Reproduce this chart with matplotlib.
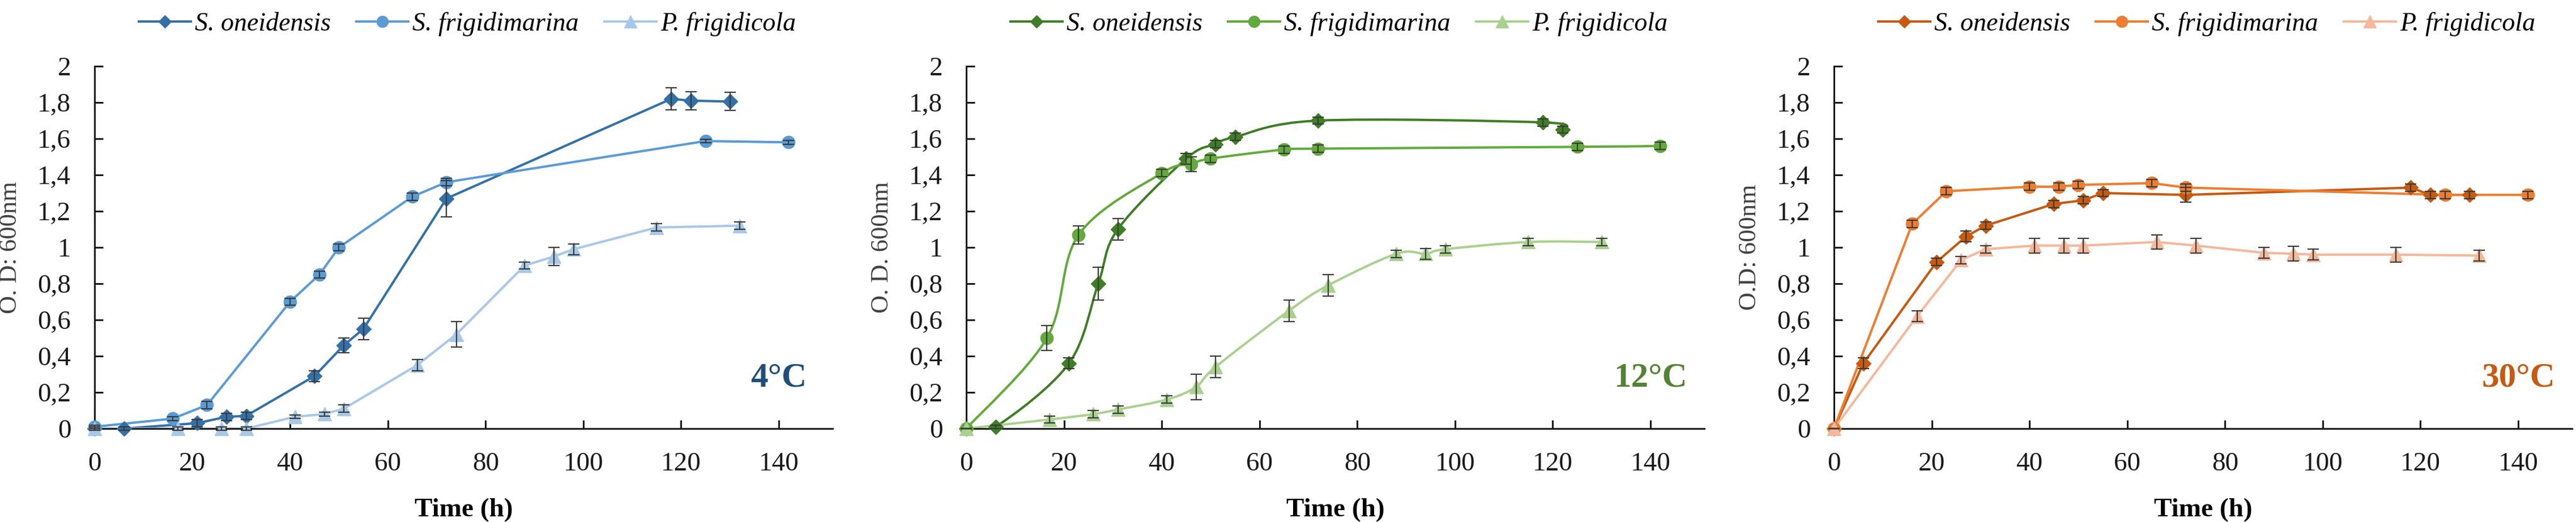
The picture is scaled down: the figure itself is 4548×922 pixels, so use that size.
#!/usr/bin/env python3
import numpy as np
import matplotlib
matplotlib.use("Agg")
import matplotlib.pyplot as plt
from matplotlib.path import Path
from matplotlib.patches import PathPatch
from matplotlib.lines import Line2D

plt.rcParams['font.family'] = ['Liberation Serif', 'DejaVu Serif']

species = ["S. oneidensis", "S. frigidimarina", "P. frigidicola"]
temps = ["4°C", "12°C", "30°C"]
ylabels = ["O. D: 600nm", "O. D. 600nm", "O.D: 600nm"]

# 4 °C
t4_one = [0, 6, 21, 27, 31, 45, 51, 55, 72, 118, 122, 130]
od4_one = [0, 0, 0.03, 0.065, 0.07, 0.29, 0.46, 0.55, 1.27, 1.82, 1.81, 1.805]
err4_one = [0.01, 0.01, 0.02, 0.02, 0.02, 0.03, 0.04, 0.06, 0.10, 0.06, 0.05, 0.05]
t4_fri = [0, 16, 23, 40, 46, 50, 65, 72, 125, 142]
od4_fri = [0.01, 0.055, 0.13, 0.70, 0.85, 1.0, 1.28, 1.36, 1.587, 1.58]
err4_fri = [0.01, 0.01, 0.02, 0.02, 0.02, 0.02, 0.02, 0.02, 0.01, 0.01]
t4_pf = [0, 17, 26, 31, 41, 47, 51, 66, 74, 88, 94, 98, 115, 132]
od4_pf = [0, 0, 0, 0, 0.065, 0.08, 0.11, 0.35, 0.52, 0.9, 0.95, 0.99, 1.11, 1.12]
err4_pf = [0, 0.01, 0.01, 0.01, 0.01, 0.01, 0.02, 0.03, 0.07, 0.02, 0.05, 0.03, 0.02, 0.02]

# 12 °C
t12_one = [0, 6, 21, 27, 31, 45, 51, 55, 72, 118, 122]
od12_one = [0, 0.01, 0.36, 0.80, 1.10, 1.49, 1.57, 1.61, 1.70, 1.69, 1.65]
err12_one = [0, 0.01, 0.03, 0.09, 0.06, 0.03, 0.02, 0.02, 0.02, 0.02, 0.02]
t12_fri = [0, 16.5, 23, 40, 46, 50, 65, 72, 125, 142]
od12_fri = [0, 0.50, 1.07, 1.41, 1.46, 1.49, 1.54, 1.545, 1.555, 1.56]
err12_fri = [0, 0.07, 0.05, 0.02, 0.04, 0.02, 0.02, 0.02, 0.02, 0.02]
t12_pf = [0, 17, 26, 31, 41, 47, 51, 66, 74, 88, 94, 98, 115, 130]
od12_pf = [0, 0.05, 0.08, 0.105, 0.16, 0.23, 0.34, 0.65, 0.79, 0.965, 0.965, 0.99, 1.03, 1.03]
err12_pf = [0, 0.02, 0.02, 0.02, 0.02, 0.07, 0.06, 0.06, 0.06, 0.02, 0.03, 0.02, 0.02, 0.02]

# 30 °C
t30_one = [0, 6, 21, 27, 31, 45, 51, 55, 72, 118, 122, 130]
od30_one = [0, 0.36, 0.92, 1.06, 1.12, 1.24, 1.26, 1.30, 1.29, 1.33, 1.29, 1.29]
err30_one = [0, 0.03, 0.02, 0.03, 0.02, 0.02, 0.02, 0.02, 0.04, 0.02, 0.02, 0.02]
t30_fri = [0, 16, 23, 40, 46, 50, 65, 72, 125, 142]
od30_fri = [0, 1.13, 1.31, 1.335, 1.335, 1.345, 1.355, 1.33, 1.29, 1.29]
err30_fri = [0, 0.02, 0.02, 0.02, 0.02, 0.02, 0.02, 0.02, 0.02, 0.02]
t30_pf = [0, 17, 26, 31, 41, 47, 51, 66, 74, 88, 94, 98, 115, 132]
od30_pf = [0, 0.62, 0.93, 0.99, 1.01, 1.01, 1.01, 1.03, 1.01, 0.97, 0.965, 0.96, 0.96, 0.955]
err30_pf = [0, 0.03, 0.02, 0.02, 0.04, 0.04, 0.04, 0.04, 0.04, 0.03, 0.04, 0.03, 0.04, 0.03]

panels = [
    [(t4_one, od4_one, err4_one), (t4_fri, od4_fri, err4_fri), (t4_pf, od4_pf, err4_pf)],
    [(t12_one, od12_one, err12_one), (t12_fri, od12_fri, err12_fri), (t12_pf, od12_pf, err12_pf)],
    [(t30_one, od30_one, err30_one), (t30_fri, od30_fri, err30_fri), (t30_pf, od30_pf, err30_pf)],
]
colors = [
    ["#3470A8", "#5B9BD5", "#A8C8E8"],
    ["#3E7E24", "#62AA3C", "#A9D18E"],
    ["#C55A11", "#ED7D31", "#F4B89A"],
]
label_colors = ["#1F4E79", "#548235", "#C55A11"]
smooth = [False, True, False]
markers = ["D", "o", "^"]
msizes = [13, 16, 17]


def smooth_line(ax, x, y, color):
    """ Catmull-Rom style bezier through the points (like Excel smoothing) """
    pts = np.column_stack([x, y]).astype(float)
    n = len(pts)
    verts = [pts[0]]
    codes = [Path.MOVETO]
    for i in range(n - 1):
        p0 = pts[i - 1] if i > 0 else pts[i]
        p1 = pts[i]
        p2 = pts[i + 1]
        p3 = pts[i + 2] if i + 2 < n else pts[i + 1]
        verts += [p1 + (p2 - p0) / 6, p2 - (p3 - p1) / 6, p2]
        codes += [Path.CURVE4] * 3
    ax.add_patch(PathPatch(Path(verts, codes), facecolor='none',
                           edgecolor=color, lw=3, zorder=2))


fig = plt.figure(figsize=(45.48, 9.22), dpi=100)
lefts = [167, 1706, 3238]

for p in range(3):
    ax = fig.add_axes([lefts[p] / 4548, 165 / 922, 1303 / 4548, 640 / 922])
    for s in range(3):
        x, y, e = panels[p][s]
        c = colors[p][s]
        if smooth[p]:
            smooth_line(ax, x, y, c)
        else:
            ax.plot(x, y, color=c, lw=3, zorder=2)
        ax.plot(x, y, linestyle='None', marker=markers[s], markersize=msizes[s],
                color=c, markeredgecolor=c, zorder=3, clip_on=False)
        ax.errorbar(x, y, yerr=e, fmt='none', ecolor='#3a3a3a', elinewidth=1.6,
                    capsize=7, capthick=1.6, zorder=4, clip_on=False)

    ax.set_xlim(0, 151)
    ax.set_ylim(0, 2)
    ax.set_xticks(range(0, 141, 20))
    ax.set_yticks(np.arange(0, 2.01, 0.2))
    ax.set_yticklabels(["0" if v == 0 else ("%g" % v).replace(".", ",")
                        for v in np.arange(0, 2.01, 0.2)])
    for sp in ['top', 'right']:
        ax.spines[sp].set_visible(False)
    for sp in ['left', 'bottom']:
        ax.spines[sp].set_linewidth(2.2)
        ax.spines[sp].set_color('#1a1a1a')
    ax.tick_params(direction='in', length=11, width=2.2, labelsize=34, pad=30,
                   colors='#1a1a1a')
    ax.set_xlabel("Time (h)", fontsize=34, fontweight='bold', labelpad=28)
    ax.set_ylabel(ylabels[p], fontsize=32, color='#404040')
    ax.yaxis.set_label_coords(-0.099, 0.5)
    ax.text(140, 0.28, temps[p], fontsize=44, fontweight='bold',
            color=label_colors[p], ha='center', va='center')

    handles = [Line2D([], [], color=colors[p][s], lw=3, marker=markers[s],
                      markersize=msizes[s] * 0.9) for s in range(3)]
    ax.legend(handles, species, loc='center', bbox_to_anchor=(0.505, 1.117),
              ncol=3, frameon=False, prop={'style': 'italic', 'size': 33},
              handlelength=2.0, handletextpad=0.15, columnspacing=1.0,
              borderaxespad=0)

fig.savefig("out.png", dpi=100)
